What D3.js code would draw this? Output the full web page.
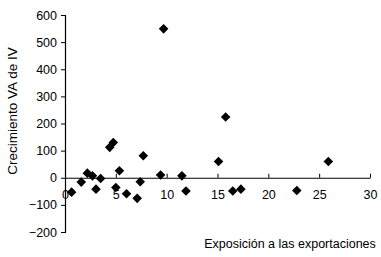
<!DOCTYPE html>
<html><head><meta charset="utf-8">
<script src="https://cdn.jsdelivr.net/npm/d3@7"></script>
<style>body{margin:0;background:#fff}svg{display:block}text{font-family:"Liberation Sans",Arial,sans-serif;fill:#000}</style>
</head><body>
<svg id="c" width="381" height="257"></svg>
<script>
const xValues = [0.65,1.6,2.2,2.7,3.05,3.5,4.4,4.75,5.0,5.35,6.05,7.1,7.4,7.7,9.4,9.7,11.5,11.9,15.1,15.8,16.5,17.3,22.8,25.9];
const yValues = [-53,-16,17,7,-42,-3,112,130,-36,26,-59,-76,-15,81,10,549,7,-49,60,224,-49,-42,-47,60];
const xTicks = [0,5,10,15,20,25,30];
const yTicks = [-200,-100,0,100,200,300,400,500,600];
const xTitle = "Exposición a las exportaciones";
const yTitle = "Crecimiento VA de IV";

const svg = d3.select("#c");
const x = d3.scaleLinear().domain([0,30]).range([65,370]);
const y = d3.scaleLinear().domain([-200,600]).range([232,15]);

const ya = svg.append("g").attr("transform","translate(65,0)")
  .call(d3.axisLeft(y).tickValues(yTicks).tickSize(4).tickPadding(4).tickFormat(d3.format("d")));
ya.select(".domain").attr("stroke","#000").attr("stroke-width",1.2);
ya.selectAll("line").attr("stroke","#000");
ya.selectAll("text").attr("font-size",12.5).style("font-family","'Liberation Sans',Arial,sans-serif");

const xa = svg.append("g").attr("transform",`translate(0,${y(0)})`)
  .call(d3.axisBottom(x).tickValues(xTicks).tickSize(-4).tickPadding(12).tickSizeOuter(0));
xa.select(".domain").attr("stroke","#000").attr("stroke-width",1.2);
xa.selectAll("line").attr("stroke","#000");
xa.selectAll("text").attr("font-size",12.5).style("font-family","'Liberation Sans',Arial,sans-serif");

svg.append("g").selectAll("path").data(xValues.map((v,i)=>[v,yValues[i]])).join("path")
  .attr("d", d3.symbol().type(d3.symbolSquare).size(46))
  .attr("transform", d=>`translate(${x(d[0])},${y(d[1])}) rotate(45)`)
  .attr("fill","#000");

svg.append("text").attr("transform","translate(17,111) rotate(-90)")
  .attr("text-anchor","middle").attr("font-size",13.5).text(yTitle);
svg.append("text").attr("x",290).attr("y",248)
  .attr("text-anchor","middle").attr("font-size",12.5).text(xTitle);
</script>
</body></html>
